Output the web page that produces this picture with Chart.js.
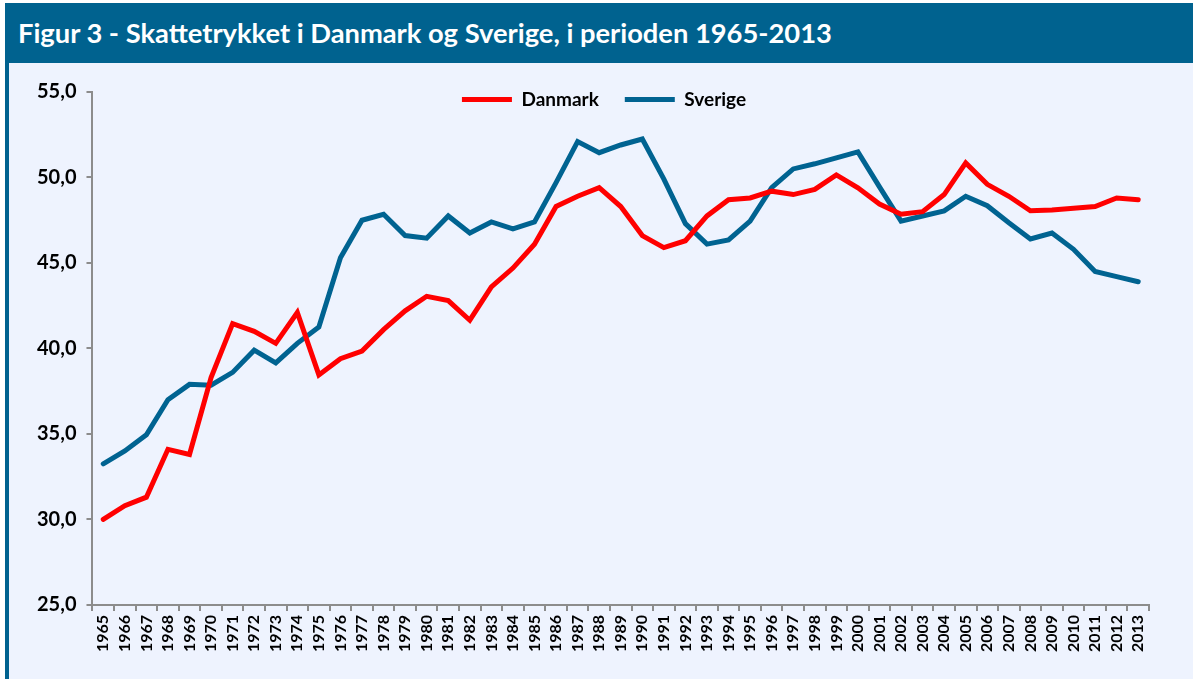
<!DOCTYPE html>
<html>
<head>
<meta charset="utf-8">
<script src="https://cdn.jsdelivr.net/npm/chart.js@4"></script>
<style>
  html, body { margin: 0; padding: 0; background: #ffffff; }
  body { width: 1193px; height: 679px; position: relative; overflow: hidden; font-family: Lato, sans-serif; }
  #header {
    position: absolute; left: 5px; top: 3px; width: 1188px; height: 60px;
    background: #00628f; color: #fff; font-weight: bold; font-size: 27.3px;
    line-height: 60px; padding-left: 13px; box-sizing: border-box;
  }
  #panel {
    position: absolute; left: 5px; top: 63px; width: 1188px; height: 616px;
    background: #eef3fe; border-left: 4px solid #00628f; box-sizing: border-box;
  }
  #wrap { position: absolute; left: 0; top: 0; width: 1184px; height: 616px; }
</style>
</head>
<body>
<div id="header">Figur 3 - Skattetrykket i Danmark og Sverige, i perioden 1965-2013</div>
<div id="panel"><div id="wrap"><canvas id="myChart"></canvas></div></div>
<script>
const years = ['1965','1966','1967','1968','1969','1970','1971','1972','1973','1974',
  '1975','1976','1977','1978','1979','1980','1981','1982','1983','1984',
  '1985','1986','1987','1988','1989','1990','1991','1992','1993','1994',
  '1995','1996','1997','1998','1999','2000','2001','2002','2003','2004',
  '2005','2006','2007','2008','2009','2010','2011','2012','2013'];

const danmark = [30.0, 30.8, 31.3, 34.1, 33.8, 38.3, 41.45, 41.0, 40.3, 42.1,
  38.45, 39.4, 39.85, 41.1, 42.2, 43.05, 42.8, 41.65, 43.6, 44.7,
  46.1, 48.3, 48.9, 49.4, 48.3, 46.6, 45.9, 46.3, 47.75, 48.7,
  48.8, 49.2, 49.0, 49.3, 50.15, 49.4, 48.45, 47.85, 48.0, 49.0,
  50.85, 49.6, 48.9, 48.05, 48.1, 48.2, 48.3, 48.8, 48.7];

const sverige = [33.25, 34.0, 34.95, 37.0, 37.9, 37.85, 38.6, 39.9, 39.15, 40.3,
  41.25, 45.3, 47.5, 47.85, 46.6, 46.45, 47.75, 46.75, 47.4, 47.0,
  47.4, 49.7, 52.1, 51.45, 51.9, 52.25, 49.9, 47.3, 46.1, 46.35,
  47.45, 49.4, 50.5, 50.8, 51.15, 51.5, 49.45, 47.45, 47.75, 48.05,
  48.9, 48.35, 47.35, 46.4, 46.75, 45.8, 44.5, 44.2, 43.9];

const yMin = 25;
const yMax = 55;
const yStep = 5;

const axisColor = '#8c8c8c';

// legend sits inside the plot, near the top, like in the original
const legendInside = {
    id: 'legendInside',
    afterLayout(chart) {
        const lg = chart.legend;
        const h = lg.fullHeight || lg.height;
        const w = lg.right - lg.left;
        lg.top = chart.chartArea.top - 28;
        lg.bottom = lg.top + h;
        lg.left += 16;
        lg.right = lg.left + w;
        lg.adjustHitBoxes();
    }
};

const ctx = document.getElementById('myChart').getContext('2d');
const myChart = new Chart(ctx, {
    type: 'line',
    data: {
        labels: years,
        datasets: [{
            label: 'Danmark',
            data: danmark,
            borderColor: '#ff0000',
            backgroundColor: '#ff0000',
            borderWidth: 5,
            borderCapStyle: 'round',
            borderJoinStyle: 'miter',
            pointRadius: 0,
            tension: 0
        }, {
            label: 'Sverige',
            data: sverige,
            borderColor: '#006391',
            backgroundColor: '#006391',
            borderWidth: 5,
            borderCapStyle: 'round',
            borderJoinStyle: 'miter',
            pointRadius: 0,
            tension: 0
        }]
    },
    options: {
        responsive: true,
        maintainAspectRatio: false,
        animation: false,
        layout: {
            padding: { left: 18, right: 44, top: 29, bottom: 23 }
        },
        plugins: {
            legend: {
                position: 'top',
                align: 'center',
                labels: {
                    usePointStyle: true,
                    pointStyle: 'line',
                    pointStyleWidth: 50,
                    boxWidth: 50,
                    boxHeight: 10,
                    color: '#000',
                    font: { family: 'Lato', weight: 'bold', size: 19 },
                    padding: 26
                }
            },
            tooltip: { enabled: false }
        },
        scales: {
            x: {
                offset: true,
                grid: {
                    offset: true,
                    drawOnChartArea: false,
                    drawTicks: true,
                    tickLength: 6,
                    color: axisColor,
                    lineWidth: 2
                },
                border: { color: axisColor, width: 2 },
                ticks: {
                    autoSkip: false,
                    minRotation: 90,
                    maxRotation: 90,
                    color: '#000',
                    padding: 4,
                    font: { family: 'Lato', weight: 'bold', size: 16 }
                }
            },
            y: {
                min: yMin,
                max: yMax,
                ticks: {
                    stepSize: yStep,
                    color: '#000',
                    padding: 10,
                    font: { family: 'Lato', weight: 'bold', size: 20 },
                    callback: function(value) {
                        return value.toFixed(1).replace('.', ',');
                    }
                },
                grid: {
                    drawOnChartArea: false,
                    tickLength: 6,
                    color: axisColor,
                    lineWidth: 2
                },
                border: { color: axisColor, width: 2 }
            }
        }
    },
    plugins: [legendInside]
});

// the legend box should not take room above the plot
const lg = myChart.legend;
const baseFit = lg.fit;
lg.fit = function() {
    baseFit.call(this);
    this.fullHeight = this.height;
    this.height = 0;
};
myChart.update();
</script>
</body>
</html>
